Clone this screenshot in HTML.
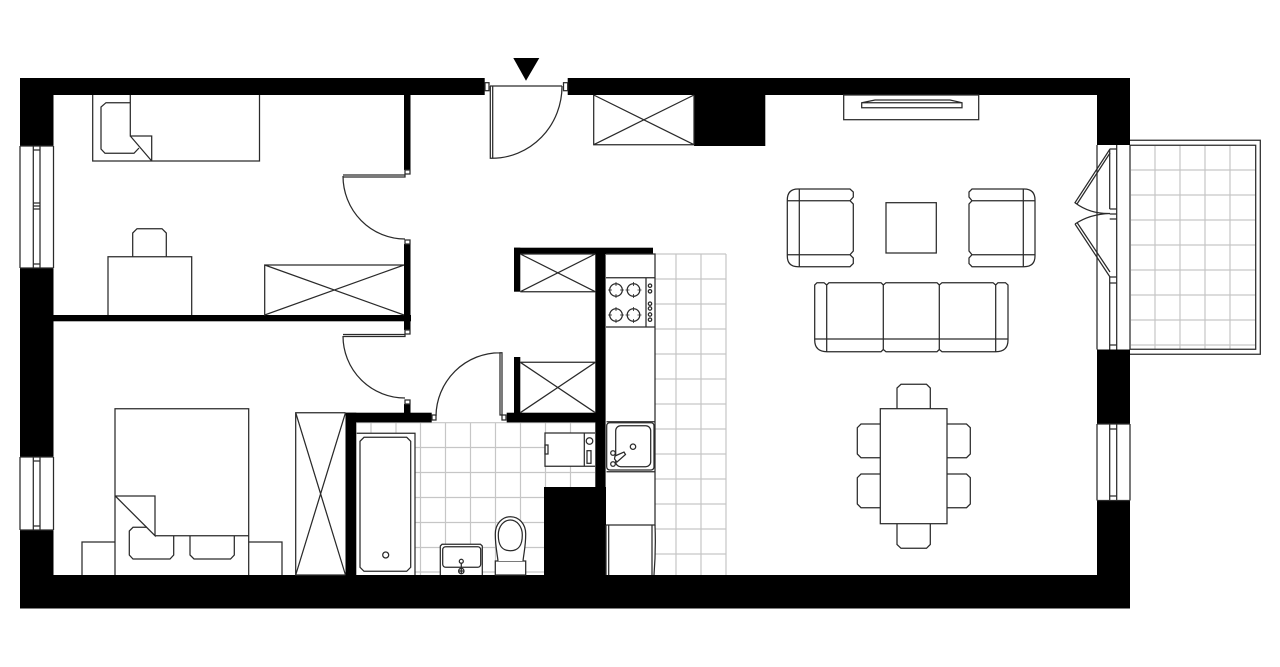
<!DOCTYPE html>
<html><head><meta charset="utf-8"><style>html,body{margin:0;padding:0;background:#fff}svg{display:block}</style></head><body>
<svg xmlns="http://www.w3.org/2000/svg" width="1280" height="667" viewBox="0 0 1280 667">
<rect width="1280" height="667" fill="#fff"/>
<!-- tile grids -->
<g stroke="#c6c6c6" stroke-width="1.200" fill="none">
<path d="M676 254V575M701 254V575M726 254V575M655 254H726M655 279H726M655 304H726M655 329H726M655 354H726M655 379H726M655 404H726M655 429H726M655 454H726M655 479H726M655 504H726M655 529H726M655 554H726"/>
<path d="M371 423V575M396 423V575M420.500 423V575M445.500 423V575M470.500 423V575M495.500 423V575M520.500 423V575M545.500 423V575M570.500 423V487M357 422.700H595M357 447.500H595M357 472.500H595M357 497.500H544M357 522.500H544M357 547.500H544M357 572H544"/>
<path d="M1155 146V349M1180 146V349M1205 146V349M1230 146V349M1131 170H1255M1131 195H1255M1131 220H1255M1131 245H1255M1131 270H1255M1131 295H1255M1131 320H1255M1131 345H1255"/>
</g>
<!-- walls -->
<g fill="#000">
<rect x="20" y="78" width="464.700" height="17"/>
<rect x="567.700" y="78" width="562.300" height="17"/>
<rect x="20" y="575" width="1110" height="33.500"/>
<rect x="20" y="78" width="33.500" height="68"/>
<rect x="20" y="268" width="33.500" height="189"/>
<rect x="20" y="530" width="33.500" height="78"/>
<rect x="1097" y="78" width="33" height="67"/>
<rect x="1097" y="349.500" width="33" height="74.500"/>
<rect x="1097" y="500.500" width="33" height="107"/>
<rect x="694" y="95" width="71.300" height="51"/>
<rect x="404" y="95" width="6.500" height="75"/>
<rect x="404" y="244" width="6.500" height="86"/>
<rect x="404" y="404" width="6.500" height="9"/>
<rect x="53" y="315" width="358" height="6.300"/>
<rect x="345.500" y="412.700" width="86.200" height="9.700"/>
<rect x="345.500" y="412.700" width="10.800" height="163"/>
<rect x="506.700" y="412.700" width="89" height="9.700"/>
<rect x="514" y="357" width="6.300" height="56"/>
<rect x="595.300" y="248" width="10.300" height="328"/>
<rect x="544" y="487" width="62" height="89"/>
<rect x="514" y="247.700" width="139" height="6.300"/>
<rect x="514" y="247.700" width="6.300" height="44"/>
<polygon points="513.300,58 539.300,58 526,80.700"/>
</g>
<g fill="none" stroke="#2a2a2a" stroke-width="1.250">
<!-- windows -->
<path d="M20 146H53.500M20 268H53.500M20 146V268M53.500 146V268M33.300 146V268M40 146V268M33.300 150H40M33.300 264H40M33.300 203H40M33.300 206H40M33.300 209H40"/>
<path d="M20 457H53.500M20 530H53.500M20 457V530M53.500 457V530M33.300 457V530M40 457V530M33.300 461H40M33.300 526H40"/>
<path d="M1097 424H1130M1097 500.500H1130M1097 424V500.500M1130 424V500.500M1109.700 424V500.500M1116.700 424V500.500M1109.700 429H1116.700M1109.700 496H1116.700"/>
<path d="M1097 145V349.500M1130 145V349.500M1116.700 145V349.500M1109.700 150V209M1109.700 277V349.500M1109.700 149H1116.700M1109.700 209H1116.700M1109.700 214H1116.700M1109.700 219H1116.700M1109.700 277H1116.700M1109.700 283H1116.700M1109.700 345H1116.700"/>
<!-- balcony -->
<path d="M1130 140.300H1260.300V354.300H1130M1130 145.300H1255.700V349.300H1130"/>
<!-- balcony doors -->
<path d="M1110 149L1075 202.700L1077 204L1110 153M1075 202.700Q1090 214 1110 213.500M1075 224Q1090 214 1110 213.500M1075 224L1110 277M1077 222.500L1110 272"/>
<!-- entrance door -->
<path d="M490 86H562M490.300 86V158.300H492.700V86M492 158.300A70 72 0 0 0 562 86"/>
<rect x="485" y="82.700" width="4" height="8" fill="#fff"/>
<rect x="563.500" y="82.700" width="4.200" height="8" fill="#fff"/>
<!-- bedroom doors -->
<rect x="405" y="170" width="5" height="4" fill="#fff"/>
<rect x="405" y="240" width="5" height="4" fill="#fff"/>
<rect x="405" y="330" width="5" height="4" fill="#fff"/>
<rect x="405" y="400" width="5" height="4" fill="#fff"/>
<path d="M343 175H405V177H343M343 176A62 63 0 0 0 405 239"/>
<path d="M343 334.500H405V336.500H343M343 336A62 62 0 0 0 405 398"/>
<!-- bath door -->
<rect x="432" y="415" width="4" height="5" fill="#fff"/>
<rect x="502" y="415" width="4" height="5" fill="#fff"/>
<path d="M500 352.700H502V415H500ZM500 352.700A64 64 0 0 0 436 416"/>
<!-- bed 1 -->
<path d="M92.700 95V161H259.500V95"/>
<path d="M130.300 102.700H106L101 107V149L105 153.300H134L139 148"/>
<path d="M130.300 95V136H151.700V161M130.300 136L151.700 161"/>
<!-- desk -->
<path d="M108 315V256.700H191.700V315M132.700 256.700V233L137 228.700H162L166.300 233V256.700"/>
<!-- closets -->
<path d="M404 265H264.700V315L404 265M264.700 265L404 315"/>
<path d="M593.700 95V144.700H694V95M593.700 95L694 144.700M593.700 144.700L694 95"/>
<path d="M520.300 254H595.300M520.300 291.700H595.300M520.300 254L595.300 291.700M520.300 291.700L595.300 254"/>
<path d="M520.300 362.300H595.300M520.300 362.300L595.300 412.700M520.300 412.700L595.300 362.300"/>
<path d="M345.500 412.700H295.700V575H345.500M295.700 412.700L345.500 575M295.700 575L345.500 412.700"/>
<!-- bed 2 -->
<path d="M115 575V408.700H248.700V575M155 535.700H248.700M115.300 496H155V535.700L115.300 496"/>
<path d="M147 527.300H133L129.300 531V555L133 559H170L173.700 555V535.700"/>
<path d="M190 535.700V555L194 559H230.500L234.300 555V535.700"/>
<path d="M82 575V542H115M248.700 542H282V575"/>
<!-- bath -->
<path d="M356.700 433.300H415V575H356.700Z" fill="#fff" stroke="none"/>
<path d="M356.700 433.300H415V575"/>
<path d="M364 437.300H406.700L410.700 441.300V567.300L406.700 571.300H364L360 567.300V441.300Z"/>
<circle cx="385.700" cy="555" r="3"/>
<!-- washer -->
<path d="M595 433H545V466.300H595" fill="#fff"/>
<path d="M584.300 433V466.300"/>
<rect x="545" y="445" width="3" height="9"/>
<circle cx="589.500" cy="441" r="3.300"/>
<rect x="587" y="450.700" width="4" height="12.600"/>
<!-- basin -->
<path d="M440.300 575V546L442 544.300H480.500L482.300 546V575" fill="#fff"/>
<rect x="442.700" y="546.700" width="38" height="20.600" rx="3" fill="#fff"/>
<circle cx="461.300" cy="561.300" r="2"/>
<circle cx="461.300" cy="571" r="2.700"/>
<path d="M461.300 563.300V573.700M458.600 571H464"/>
<!-- toilet -->
<rect x="495.300" y="561" width="30.400" height="14" fill="#fff"/>
<path d="M498 561C497 552 495.300 546 495.300 534C495.300 524 502 516.700 510.500 516.700C519 516.700 525.700 524 525.700 534C525.700 546 524 552 523 561" fill="#fff"/>
<path d="M510.300 520C516.500 520 522.300 526 522.300 535C522.300 545 519 550.700 510.300 550.700C501.500 550.700 498.300 545 498.300 535C498.300 526 504 520 510.300 520Z"/>
<!-- kitchen -->
<path d="M606 254H655V525H606M606 277.700H655M606 327H655M646 277.700V327"/>
<g>
<circle cx="616" cy="290" r="6.300"/><circle cx="633.500" cy="290" r="6.300"/>
<circle cx="616" cy="315" r="6.300"/><circle cx="633.500" cy="315" r="6.300"/>
<path d="M616 282V286M616 294V298M608 290H612M620 290H624M633.500 282V286M633.500 294V298M625.500 290H629.500M637.500 290H641.500M616 307V311M616 319V323M608 315H612M620 315H624M633.500 307V311M633.500 319V323M625.500 315H629.500M637.500 315H641.500" stroke-width=".8"/>
<circle cx="650" cy="285.700" r="1.700"/><circle cx="650" cy="291.300" r="1.700"/>
<circle cx="650" cy="303.700" r="1.700"/><circle cx="650" cy="308.500" r="1.700"/><circle cx="650" cy="314.500" r="1.700"/><circle cx="650" cy="319.700" r="1.700"/>
</g>
<path d="M606.500 421.700H655M606.500 471.700H655"/>
<rect x="606.700" y="422.700" width="47.300" height="47.300" rx="3"/>
<rect x="615.700" y="425.700" width="35" height="41" rx="5"/>
<circle cx="633" cy="446.700" r="2.700"/>
<circle cx="613" cy="453" r="2.300" fill="#fff"/>
<circle cx="613" cy="464" r="2.300" fill="#fff"/>
<path d="M615 456L624 452L625.500 454.500L617 462L614.500 459Z" fill="#fff"/>
<path d="M606 525V575M608.700 525V575M655 525Q656 550 654 575M652 525V575"/>
<!-- TV -->
<rect x="843.700" y="95" width="135" height="24.700"/>
<path d="M861.700 102.700V107.700H962V102.700L950 100H875ZM861.700 102.700H962"/>
<!-- armchairs -->
<path d="M798 189H850L853.300 192V197L850 200.700L853.300 204V251L850 254.700L853.300 258V263.500L850 266.700H798Q787.300 266.700 787.300 256V200Q787.300 189 798 189ZM799.300 189V266.700M787.300 200.700H850M787.300 254.700H850"/>
<path d="M1024 189H972L969 192V197L972 200.700L969 204V251L972 254.700L969 258V263.500L972 266.700H1024Q1035 266.700 1035 256V200Q1035 189 1024 189ZM1023.300 189V266.700M972 200.700H1035M972 254.700H1035"/>
<rect x="886" y="202.700" width="50.300" height="50.300"/>
<!-- sofa -->
<path d="M817 282.700H824L826.700 285L829 282.700H881L883.300 285L886 282.700H937L939.300 285L942 282.700H993L995.700 285L998 282.700H1005.500L1008 285V340Q1008 351.700 996 351.700H942L939.300 349.500L937 351.700H886L883.300 349.500L881 351.700H827Q814.700 351.700 814.700 340V285ZM826.700 285V351.700M883.300 285V349.500M939.300 285V349.500M995.700 285V351.700M814.700 339H1008"/>
<!-- dining -->
<rect x="880.300" y="408.700" width="66.700" height="115"/>
<path d="M897 408.700V388L901 384.300H926.500L930.300 388V408.700"/>
<path d="M897 523.700V544.500L901 548.300H926.500L930.300 544.500V523.700"/>
<path d="M880.300 424H861L857.300 427.700V454L861 457.700H880.300"/>
<path d="M880.300 474H861L857.300 477.700V504L861 507.700H880.300"/>
<path d="M947 424H966.500L970.300 427.700V454L966.500 457.700H947"/>
<path d="M947 474H966.500L970.300 477.700V504L966.500 507.700H947"/>
</g>
</svg>
</body></html>
